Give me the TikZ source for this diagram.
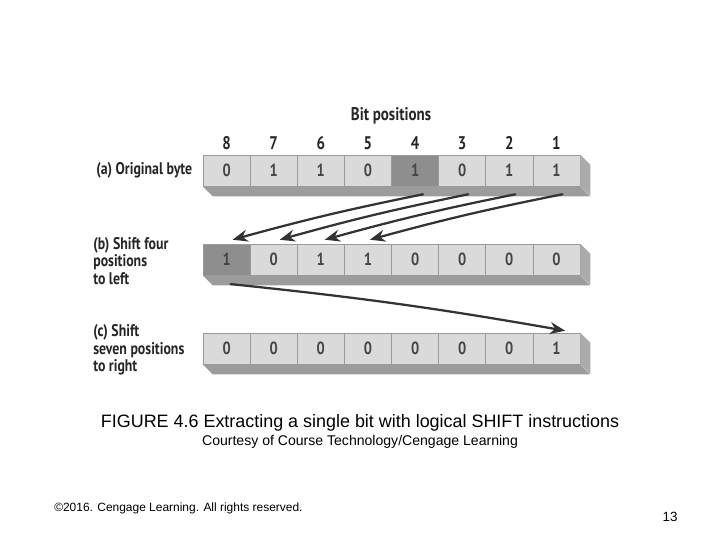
\documentclass[tikz,border=0pt]{standalone}
\usepackage{fontspec}
\setmainfont{Liberation Sans}
\newfontfamily\figfont[FakeStretch=0.82]{PT Sans}
\usepackage{tikz}
\usetikzlibrary{arrows.meta,positioning,calc}
\definecolor{cellfill}{HTML}{DADADA}
\definecolor{hotfill}{HTML}{8E8E8E}
\definecolor{cellline}{HTML}{9A9A9A}
\definecolor{basefill}{HTML}{9C9C9C}
\definecolor{sidefill}{HTML}{ABABAB}
\definecolor{digit}{HTML}{454545}
\definecolor{arrowcol}{HTML}{333333}

\begin{document}
\begin{tikzpicture}[x=0.025cm, y=-0.025cm,
  bit/.style={draw=cellline, fill=cellfill, minimum width=1.178cm, minimum height=0.775cm,
    inner sep=0pt, font=\figfont\bfseries\fontsize{12.5}{14}\selectfont, text=digit},
  hot/.style={bit, fill=hotfill},
  num/.style={font=\figfont\bfseries\fontsize{13}{14}\selectfont, text=black!85},
  rowlab/.style={font=\figfont\bfseries\fontsize{12}{12.4}\selectfont, text=black!85, align=left, anchor=west, inner sep=0pt},
  base/.style={fill=basefill, draw=none},
  side/.style={fill=sidefill, draw=none},
  arr/.style={-{Stealth[length=3.8mm, width=3mm]}, line width=1.6pt, draw=arrowcol, line cap=round}]
\useasboundingbox (0,0) rectangle (720,540);
% bit positions
\node[num] (title) at (391,116) {Bit positions};
\node[num] (p8) at (226.6,143) {8};
\node[num] (p7) at (273.7,143) {7};
\node[num] (p6) at (320.8,143) {6};
\node[num] (p5) at (367.9,143) {5};
\node[num] (p4) at (415.1,143) {4};
\node[num] (p3) at (462.2,143) {3};
\node[num] (p2) at (509.3,143) {2};
\node[num] (p1) at (556.4,143) {1};
% (a) original byte
\node[rowlab] (la) at (96,170.5) {(a) Original byte};
\node[bit] (a8) at (226.6,170.5) {0}; \node[bit] (a7) at (273.7,170.5) {1};
\node[bit] (a6) at (320.8,170.5) {1}; \node[bit] (a5) at (367.9,170.5) {0};
\node[hot] (a4) at (415.1,170.5) {1}; \node[bit] (a3) at (462.2,170.5) {0};
\node[bit] (a2) at (509.3,170.5) {1}; \node[bit] (a1) at (556.4,170.5) {1};
\fill[base] (a8.south west) -- (a1.south east) -- ++(10,10) -- ($(a8.south west)+(10,10)$) -- cycle;
\fill[side] (a1.north east) -- ++(10,10) -- ++(0,31) -- (a1.south east) -- cycle;
% (b) shift four positions to left
\node[rowlab] (lb) at (93,261) {(b) Shift four\\positions\\to left};
\node[hot] (b8) at (226.6,259.5) {1}; \node[bit] (b7) at (273.7,259.5) {0};
\node[bit] (b6) at (320.8,259.5) {1}; \node[bit] (b5) at (367.9,259.5) {1};
\node[bit] (b4) at (415.1,259.5) {0}; \node[bit] (b3) at (462.2,259.5) {0};
\node[bit] (b2) at (509.3,259.5) {0}; \node[bit] (b1) at (556.4,259.5) {0};
\fill[base] (b8.south west) -- (b1.south east) -- ++(10,10) -- ($(b8.south west)+(10,10)$) -- cycle;
\fill[side] (b1.north east) -- ++(10,10) -- ++(0,31) -- (b1.south east) -- cycle;
% (c) shift seven positions to right
\node[rowlab] (lc) at (93,350) {(c) Shift\\seven positions\\to right};
\node[bit] (c8) at (226.6,348.5) {0}; \node[bit] (c7) at (273.7,348.5) {0};
\node[bit] (c6) at (320.8,348.5) {0}; \node[bit] (c5) at (367.9,348.5) {0};
\node[bit] (c4) at (415.1,348.5) {0}; \node[bit] (c3) at (462.2,348.5) {0};
\node[bit] (c2) at (509.3,348.5) {0}; \node[bit] (c1) at (556.4,348.5) {1};
\fill[base] (c8.south west) -- (c1.south east) -- ++(10,10) -- ($(c8.south west)+(10,10)$) -- cycle;
\fill[side] (c1.north east) -- ++(10,10) -- ++(0,31) -- (c1.south east) -- cycle;
% shifts
\draw[arr] ([xshift=2mm,yshift=-2mm]a4.south) to[bend right=2] ([xshift=1.5mm,yshift=1mm]b8.north);
\draw[arr] ([xshift=1.5mm,yshift=-2mm]a3.south) to[bend right=2] ([xshift=1.5mm,yshift=1mm]b7.north);
\draw[arr] ([xshift=1.5mm,yshift=-2mm]a2.south) to[bend right=2] ([xshift=1mm,yshift=1mm]b6.north);
\draw[arr] ([xshift=1.5mm,yshift=-2mm]a1.south) to[bend right=2] ([xshift=0.5mm,yshift=1mm]b5.north);
\draw[arr] ([xshift=1mm,yshift=-2.2mm]b8.south) to[bend left=2] ([xshift=2.2mm,yshift=0.5mm]c1.north);
% caption
\node[font=\fontsize{12.75}{14}\selectfont] (cap) at (360,423) {FIGURE 4.6 Extracting a single bit with logical SHIFT instructions};
\node[font=\fontsize{10}{11}\selectfont] (src) at (360,442) {Courtesy of Course Technology/Cengage Learning};
\node[font=\fontsize{8.5}{10}\selectfont, anchor=west, inner sep=0pt] (copy) at (54,508) {©2016. Cengage Learning. All rights reserved.};
\node[font=\fontsize{9.5}{11}\selectfont] (page) at (670,517) {13};
\end{tikzpicture}
\end{document}
